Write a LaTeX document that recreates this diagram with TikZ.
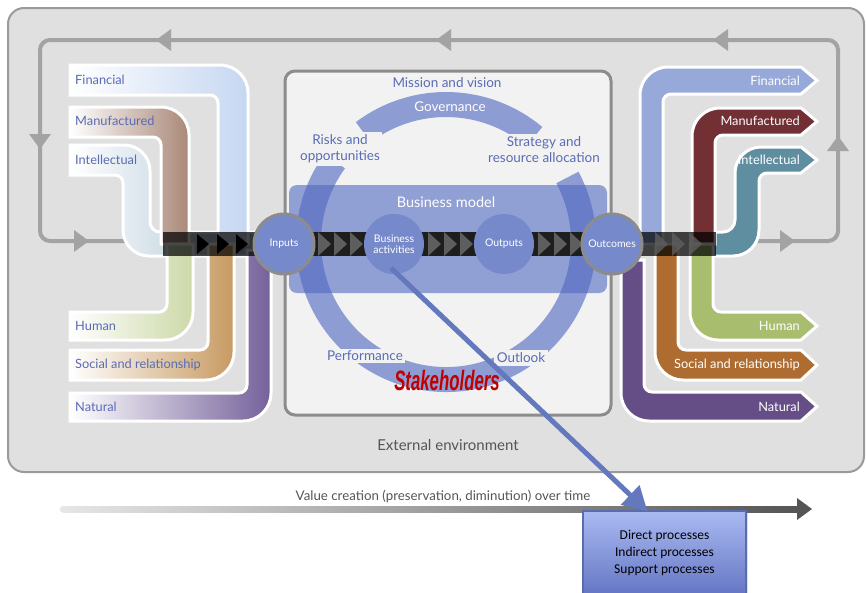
\documentclass[tikz,border=0pt]{standalone}
\usepackage{graphicx}
\usepackage{fontspec}
\setmainfont{Lato}
\newfontfamily\calibfont{Carlito}
\newfontfamily\stakefont{Liberation Sans}
\usetikzlibrary{arrows.meta,calc,shadows}

\definecolor{envgray}{HTML}{E0E0E0}
\definecolor{envborder}{HTML}{9A9A9A}
\definecolor{loopgray}{HTML}{A3A3A3}
\definecolor{panelbg}{HTML}{F2F2F2}
\definecolor{panelborder}{HTML}{8C8C8C}
\definecolor{ringc}{HTML}{5068C0}
\definecolor{circc}{HTML}{7689CB}
\definecolor{labblue}{HTML}{5A6BB5}
\definecolor{textgray}{HTML}{555555}
\definecolor{flowblack}{HTML}{1E1E1E}
\definecolor{chevgray}{HTML}{5E5E5E}
\definecolor{lfin}{HTML}{C6D7F1}
\definecolor{lman}{HTML}{A98878}
\definecolor{lint}{HTML}{A3BFCF}
\definecolor{lhum}{HTML}{CCD9A8}
\definecolor{lsoc}{HTML}{C79A62}
\definecolor{lnat}{HTML}{74619A}
\definecolor{rfin}{HTML}{97A9D9}
\definecolor{rman}{HTML}{722F34}
\definecolor{rint}{HTML}{5E8EA0}
\definecolor{rhum}{HTML}{A9BD6E}
\definecolor{rsoc}{HTML}{AE6C30}
\definecolor{rnat}{HTML}{654E86}
\definecolor{arrowblue}{HTML}{6478BE}
\definecolor{stakered}{HTML}{C00000}
\definecolor{procTop}{HTML}{AABAF2}
\definecolor{procBot}{HTML}{6476C4}

\begin{document}
\begin{tikzpicture}[x=1pt,y=-1pt,
  lband/.style={draw=white, line width=3pt, left color=white},
  rband/.style={draw=white, line width=3pt},
  llab/.style={anchor=west, text=labblue, font=\fontsize{12.8}{14}\selectfont, inner sep=0pt},
  rlab/.style={anchor=east, text=white, font=\fontsize{12.8}{14}\selectfont, inner sep=0pt},
  capc/.style={circle, fill=circc, minimum size=60pt, inner sep=0pt, text=white, align=center, font=\fontsize{10.5}{11.5}\selectfont},
  ringlab/.style={text=labblue, align=center, font=\fontsize{13.5}{16}\selectfont, fill=panelbg, inner sep=2.5pt},
  looptri/.style={fill=loopgray},
  diagarrow/.style={draw=arrowblue, line width=5pt, -{Triangle[width=26pt,length=24pt]}},
  procbox/.style={draw=arrowblue!90!black, line width=1.2pt, top color=procTop, bottom color=procBot, minimum width=163pt, minimum height=84pt, align=center, font=\calibfont\fontsize{13.5}{17}\selectfont, text=black, drop shadow={opacity=0.25, shadow xshift=2pt, shadow yshift=-2pt}}
]
\useasboundingbox (0,0) rectangle (866,592);
\clip (0,0) rectangle (866,592);
\fill[white] (0,0) rectangle (866,592);

% outer environment box
\draw[fill=envgray, draw=envborder, line width=2pt, rounded corners=16pt] (8,8) rectangle (864,472);

% feedback loop
\draw[loopgray, line width=4pt, rounded corners=10pt] (740,241) -- (838,241) -- (838,40) -- (40,40) -- (40,241) -- (130,241);
\fill[looptri] (156,40) -- (171,29) -- (171,51) -- cycle;
\fill[looptri] (436,40) -- (451,29) -- (451,51) -- cycle;
\fill[looptri] (713,40) -- (728,29) -- (728,51) -- cycle;
\fill[looptri] (40,149) -- (29,134) -- (51,134) -- cycle;
\fill[looptri] (89,241) -- (74,230) -- (74,252) -- cycle;
\fill[looptri] (838,136) -- (827,151) -- (849,151) -- cycle;
\fill[looptri] (795,241) -- (780,230) -- (780,252) -- cycle;

% central panel
\draw[fill=panelbg, draw=panelborder, line width=3pt, rounded corners=10pt] (285,71) rectangle (611,415);

% ring
\draw[ringc, draw opacity=0.62, line width=25pt] (446,242) ++(-127:137.5) arc[start angle=-127, end angle=-50, radius=137.5];
\draw[ringc, draw opacity=0.62, line width=25pt] (446,242) ++(-28:137.5) arc[start angle=-28, end angle=216, radius=137.5];

\node[ringlab] (mission) at (447,83) {Mission and vision};
\node[text=white, font=\fontsize{13.5}{15}\selectfont] (gov) at (450,107) {Governance};
\node[ringlab] (risks) at (340,149) {Risks and\\opportunities};
\node[ringlab] (strat) at (544,150) {Strategy and\\resource allocation};
\node[ringlab] (perf) at (365,356) {Performance};
\node[ringlab] (outl) at (521,358) {Outlook};

% business model box
\fill[ringc, opacity=0.6, rounded corners=8pt] (289,185) rectangle (607,293);
\node[text=white, font=\fontsize{14.5}{17}\selectfont] (bm) at (446,202) {Business model};

% left bands
\path[lband, right color=lint] (70,145) -- (124,145) arc[start angle=-90,end angle=0,radius=26] -- (150,222) arc[start angle=180,end angle=90,radius=10] -- (258,232) -- (258,256) -- (149,256) arc[start angle=90,end angle=180,radius=26] -- (123,183) arc[start angle=0,end angle=-90,radius=8] -- (70,175) -- cycle;
\path[lband, right color=lfin] (70,65) -- (220,65) arc[start angle=-90,end angle=0,radius=28] -- (248,244) -- (218,244) -- (218,103) arc[start angle=0,end angle=-90,radius=8] -- (70,95) -- cycle;
\path[lband, right color=lman] (70,107) -- (161,107) arc[start angle=-90,end angle=0,radius=28] -- (189,244) -- (161,244) -- (161,145) arc[start angle=0,end angle=-90,radius=8] -- (70,137) -- cycle;
\path[lband, right color=lhum] (70,312) -- (159,312) arc[start angle=90,end angle=0,radius=8] -- (167,244) -- (193,244) -- (193,312) arc[start angle=0,end angle=90,radius=28] -- (70,340) -- cycle;
\path[lband, right color=lsoc] (70,350) -- (200,350) arc[start angle=90,end angle=0,radius=8] -- (208,244) -- (234,244) -- (234,352) arc[start angle=0,end angle=90,radius=28] -- (70,380) -- cycle;
\path[lband, right color=lnat] (70,393) -- (239,393) arc[start angle=90,end angle=0,radius=8] -- (247,250) -- (271,250) -- (271,393) arc[start angle=0,end angle=90,radius=28] -- (70,421) -- cycle;

\node[llab] (lfinl) at (75,80) {Financial};
\node[llab] (lmanl) at (75,121) {Manufactured};
\node[llab] (lintl) at (75,160) {Intellectual};
\node[llab] (lhuml) at (75,326) {Human};
\node[llab] (lsocl) at (75,365) {Social and relationship};
\node[llab] (lnatl) at (75,407) {Natural};

% right bands
\path[rband, fill=rint] (700,232) -- (723,232) arc[start angle=90,end angle=0,radius=12] -- (735,173) arc[start angle=180,end angle=270,radius=26] -- (801,147) -- (817,160) -- (801,173) -- (767,173) arc[start angle=270,end angle=180,radius=8] -- (759,230) arc[start angle=0,end angle=90,radius=26] -- (700,256) -- cycle;
\path[rband, fill=rfin] (640,244) -- (640,95) arc[start angle=180,end angle=270,radius=28] -- (801,67) -- (817,80.5) -- (801,94) -- (671,94) arc[start angle=270,end angle=180,radius=8] -- (663,244) -- cycle;
\path[rband, fill=rman] (692,244) -- (692,136) arc[start angle=180,end angle=270,radius=28] -- (801,108) -- (817,121.5) -- (801,135) -- (723,135) arc[start angle=270,end angle=180,radius=8] -- (715,244) -- cycle;
\path[rband, fill=rhum] (690,244) -- (690,312) arc[start angle=180,end angle=90,radius=28] -- (801,340) -- (817,326) -- (801,312) -- (721,312) arc[start angle=90,end angle=180,radius=8] -- (713,244) -- cycle;
\path[rband, fill=rsoc] (655,244) -- (655,352) arc[start angle=180,end angle=90,radius=28] -- (801,380) -- (817,365) -- (801,350) -- (686,350) arc[start angle=90,end angle=180,radius=8] -- (678,244) -- cycle;
\path[rband, fill=rnat] (621,260) -- (621,393) arc[start angle=180,end angle=90,radius=28] -- (801,421) -- (817,406.5) -- (801,392) -- (652,392) arc[start angle=90,end angle=180,radius=8] -- (644,260) -- cycle;

\node[rlab] (rfinl) at (800,81) {Financial};
\node[rlab] (rmanl) at (800,121) {Manufactured};
\node[rlab] (rintl) at (800,160) {Intellectual};
\node[rlab] (rhuml) at (800,326) {Human};
\node[rlab] (rsocl) at (800,365) {Social and relationship};
\node[rlab] (rnatl) at (800,407) {Natural};

% flow band
\fill[black, opacity=0.72] (163,232) rectangle (262,256);
\fill[flowblack] (262,232) rectangle (640,256);
\fill[black, opacity=0.72] (640,232) rectangle (716,256);
\foreach \cx in {197,217,236} {\fill[black] (\cx,234) -- (\cx+12,244) -- (\cx,254) -- cycle;}
\foreach \cx in {318,334,350,428,444,460,538,554,570} {\fill[chevgray] (\cx,232) -- (\cx+13,244) -- (\cx,256) -- cycle;}
\foreach \cx in {655,672,689} {\fill[chevgray, opacity=0.8] (\cx,232) -- (\cx+13,244) -- (\cx,256) -- cycle;}

% capital circles
\node[capc, draw=panelborder, line width=3pt] (inp) at (284,244) {Inputs};
\node[capc] (ba) at (394,244) {Business\\activities};
\node[capc] (outp) at (504,244) {Outputs};
\node[capc, draw=panelborder, line width=3pt] (outc) at (612,244) {Outcomes};

% stakeholders
\node[text=stakered, font=\stakefont\bfseries\itshape\fontsize{28}{28}\selectfont, inner sep=0pt] (stk) at (447,380) {\scalebox{0.6}[1]{Stakeholders}};

\node[text=textgray, font=\fontsize{15}{17}\selectfont] (ext) at (448,445) {External environment};

% time axis
\shade[left color=envgray!80, right color=textgray] (63,506) rectangle (797,512.5);
\fill[envgray!80] (63,509.25) circle[radius=3.25];
\fill[textgray] (812,509) -- (797,498) -- (797,520) -- cycle;
\node[text=textgray, font=\fontsize{13.3}{15}\selectfont] (vc) at (443,496) {Value creation (preservation, diminution) over time};

% processes box
\node[procbox] (proc) at (664.5,553) {Direct processes\\Indirect processes\\Support processes};

% diagonal arrow
\coordinate (astart) at (391,268);
\draw[diagarrow] (astart) -- ($(proc.north)+(-17,1)$);
\end{tikzpicture}
\end{document}
